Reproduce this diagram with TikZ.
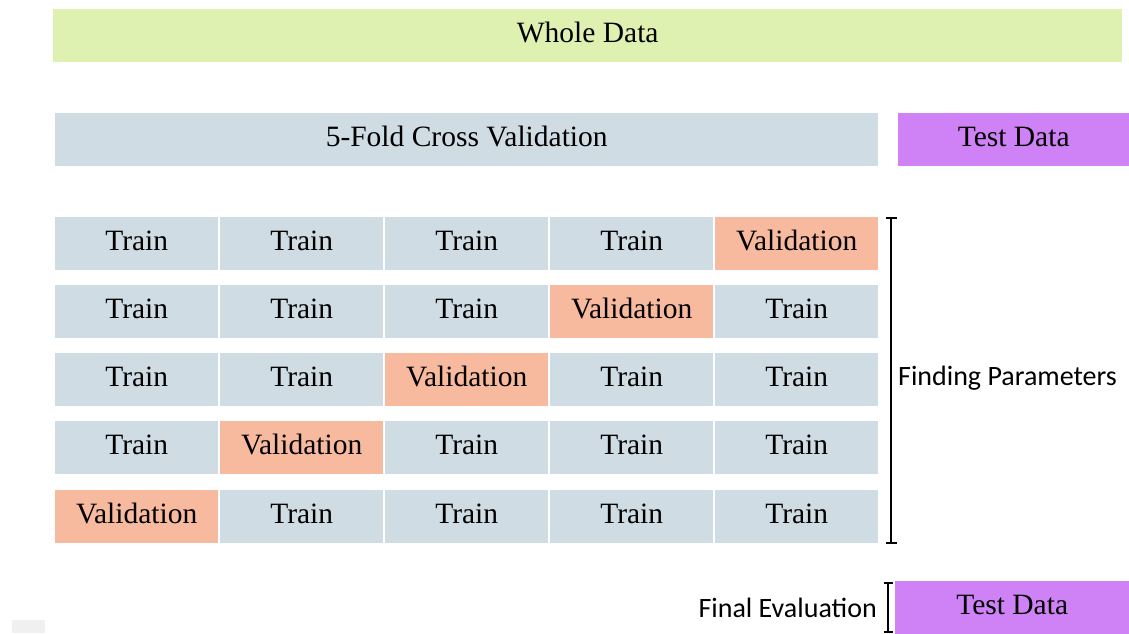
\documentclass[tikz,border=0pt]{standalone}
\usepackage{fontspec}
\setmainfont{Liberation Serif}
\newfontfamily\labelfont{Carlito}
\definecolor{wholegreen}{HTML}{DFF1B1}
\definecolor{trainblue}{HTML}{CFDCE4}
\definecolor{valsalmon}{HTML}{F8BA9F}
\definecolor{testpurple}{HTML}{CF82F5}
\tikzset{
  cellbox/.style={anchor=north west, inner sep=0pt, minimum height=53pt, text=black,
    text height=20pt, text depth=6pt,
    font=\fontsize{29.5}{31}\selectfont},
  trainbox/.style={cellbox, fill=trainblue, minimum width=163pt},
  valbox/.style={cellbox, fill=valsalmon, minimum width=163pt},
  sidelabel/.style={inner sep=0pt, font=\labelfont\fontsize{28}{30}\selectfont},
  brace/.style={line width=2pt, black}
}
\begin{document}
\begin{tikzpicture}[x=1pt,y=-1pt]
\useasboundingbox (0,0) rectangle (1129,633);
\fill[white] (0,0) rectangle (1129,633);
\fill[black!6] (12,620) rectangle (45,633);
% top bars
\node[cellbox, fill=wholegreen, minimum width=1069pt] (whole) at (53,9) {Whole Data};
\node[cellbox, fill=trainblue, minimum width=823pt] (cv) at (55,113) {5-Fold Cross Validation};
\node[cellbox, fill=testpurple, minimum width=231pt] (test1) at (898,113) {Test Data};
% grid
\foreach \r/\y in {1/217,2/285,3/353,4/421,5/490}{
  \foreach \c/\x in {1/55,2/220,3/385,4/550,5/715}{
    \pgfmathtruncatemacro{\v}{6-\r}
    \ifnum\c=\v
      \node[valbox] (c\r\c) at (\x,\y) {Validation};
    \else
      \node[trainbox] (c\r\c) at (\x,\y) {Train};
    \fi
  }
}
% finding parameters bracket
\coordinate (fpt) at (891,218);
\coordinate (fpb) at (891,543);
\draw[brace] (fpt) -- (fpb);
\draw[brace] ([xshift=-5pt]fpt) -- ([xshift=6pt]fpt);
\draw[brace] ([xshift=-5pt]fpb) -- ([xshift=6pt]fpb);
\node[sidelabel, anchor=west] (fp) at (898,378) {Finding Parameters};
% final evaluation
\node[cellbox, fill=testpurple, minimum width=234pt] (test2) at (895,581) {Test Data};
\coordinate (fet) at (888,583);
\coordinate (feb) at (888,632);
\draw[brace] (fet) -- (feb);
\draw[brace] ([xshift=-4pt]fet) -- ([xshift=5pt]fet);
\draw[brace] ([xshift=-4pt]feb) -- ([xshift=5pt]feb);
\node[sidelabel, anchor=east] (fe) at (877,608) {Final Evaluation};
\end{tikzpicture}
\end{document}
